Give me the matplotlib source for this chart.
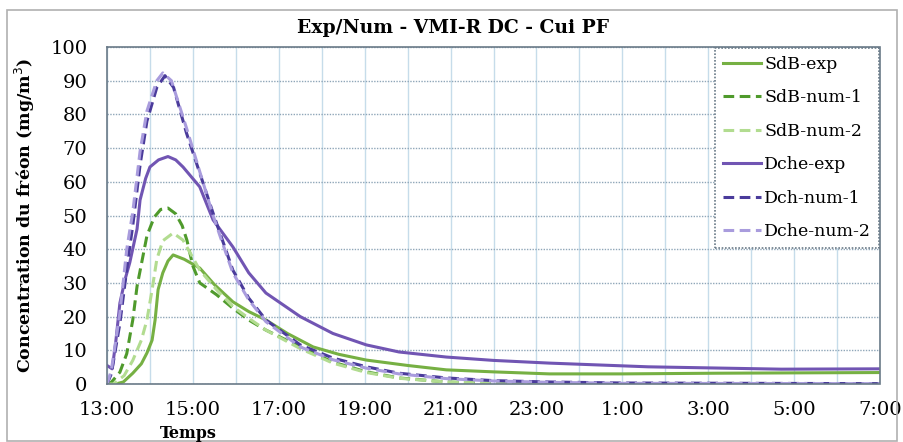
import matplotlib
matplotlib.use("Agg")
import matplotlib.pyplot as plt
from matplotlib.patches import Rectangle

# heures depuis 13:00 -> axe en heures (13 .. 31)
tick_hours = [13, 15, 17, 19, 21, 23, 25, 27, 29, 31]
tick_labels = ['13:00', '15:00', '17:00', '19:00', '21:00', '23:00', '1:00', '3:00', '5:00', '7:00']

sdb_exp_t = [0, 0.2, 0.38, 0.6, 0.8, 0.93, 1.05, 1.12, 1.19, 1.3, 1.42, 1.54, 1.8, 2.16, 2.5,
             2.93, 3.3, 3.7, 4.2, 4.8, 5.4, 6.04, 7.0, 7.9, 9.0, 10.3, 12.0, 14.2, 16.0, 18.0]
sdb_exp = [0, 0, 0.6, 3.2, 6.0, 9.2, 13, 19, 28, 33, 36.5, 38.3, 37, 34.4, 29.5,
           24.4, 21.5, 19, 15, 11, 8.8, 7.1, 5.5, 4.2, 3.6, 3.0, 3.0, 3.2, 3.3, 3.4]

sdb_num1_t = [0, 0.1, 0.3, 0.46, 0.6, 0.7, 0.93, 1.1, 1.25, 1.42, 1.6, 1.75, 1.86, 2.0, 2.16,
              2.55, 2.93, 3.3, 3.7, 4.5, 5.26, 6.04, 6.8, 7.9, 9.0, 10.3, 12.0, 18.0]
sdb_num1 = [0, 0.5, 3.5, 9, 19, 29, 44, 49.5, 51.8, 52.2, 50.5, 47, 42.7, 35, 30,
            26.5, 22.5, 19, 16, 11, 6.5, 3.6, 1.8, 0.6, 0.2, 0.1, 0, 0]

sdb_num2_t = [0, 0.15, 0.4, 0.6, 0.8, 0.93, 1.05, 1.16, 1.3, 1.54, 1.77, 2.16, 2.55, 2.93,
              3.3, 3.7, 4.5, 5.26, 6.04, 6.8, 7.9, 9.0, 10.3, 12.0, 18.0]
sdb_num2 = [0, 0, 2.5, 7, 13, 19, 28, 37, 42.5, 44.8, 42.7, 33.8, 28, 23,
            19.5, 16, 10.5, 6.2, 3.4, 1.7, 0.6, 0.2, 0.1, 0, 0]

dche_exp_t = [0, 0.12, 0.2, 0.3, 0.42, 0.53, 0.7, 0.77, 0.9, 1.0, 1.2, 1.42, 1.6, 1.77, 2.16,
              2.47, 2.93, 3.3, 3.7, 4.5, 5.26, 6.04, 6.8, 7.9, 9.0, 10.3, 12.6, 15.7, 18.0]
dche_exp = [5.5, 4.5, 12, 24, 31, 36, 46, 54.6, 61, 64.4, 66.5, 67.5, 66.5, 64.4, 58.5,
            48.7, 40.7, 33, 27, 20, 15, 11.6, 9.5, 8, 7, 6.2, 5.1, 4.4, 4.5]

dch_num1_t = [0, 0.1, 0.3, 0.5, 0.6, 0.77, 0.93, 1.16, 1.35, 1.55, 1.85, 2.16, 2.47, 2.63,
              2.93, 3.3, 3.7, 4.5, 5.26, 6.04, 6.8, 7.9, 9.0, 10.3, 12.0, 18.0]
dch_num1 = [0, 3, 18, 38, 47, 65, 78, 88, 91.5, 88, 74.5, 62.6, 50.7, 44.8,
            33.8, 25.5, 19, 11.6, 7.7, 5.1, 3.2, 1.8, 1.0, 0.6, 0.3, 0.1]

dche_num2_t = [0, 0.1, 0.3, 0.46, 0.6, 0.77, 0.93, 1.16, 1.3, 1.5, 1.85, 2.16, 2.47, 2.63,
               2.93, 3.3, 3.7, 4.5, 5.26, 6.04, 6.8, 7.9, 9.0, 10.3, 12.0, 18.0]
dche_num2 = [0, 4, 21, 40, 51, 69, 81, 90, 92.3, 90, 76, 63, 50, 44,
             33, 25, 18.5, 11, 7.2, 4.7, 3.0, 1.6, 0.9, 0.5, 0.2, 0.1]

plt.rcParams['font.family'] = ['DejaVu Serif']

fig = plt.figure(figsize=(9.04, 4.42), dpi=100)
# cadre du graphique (style Excel)
fig.patches.append(Rectangle((7 / 904, 0.003), 890 / 904, 1 - 10 / 442 - 0.003,
                             transform=fig.transFigure, fill=False,
                             edgecolor='#b0b0b0', lw=1.2))

ax = fig.add_axes([107 / 904, 1 - 384 / 442, (880 - 107) / 904, (384 - 47) / 442])

def h(ts):
    return [13 + t for t in ts]

dash = (3.5, 1.8)
ax.plot(h(sdb_exp_t), sdb_exp, color='#76b043', lw=2.2, label='SdB-exp')
ax.plot(h(sdb_num1_t), sdb_num1, color='#4f9a2c', lw=2.2, dashes=dash, label='SdB-num-1')
ax.plot(h(sdb_num2_t), sdb_num2, color='#b2dc90', lw=2.2, dashes=dash, label='SdB-num-2')
ax.plot(h(dche_exp_t), dche_exp, color='#7155b3', lw=2.2, label='Dche-exp')
ax.plot(h(dch_num1_t), dch_num1, color='#4a3b9b', lw=2.2, dashes=dash, label='Dch-num-1')
ax.plot(h(dche_num2_t), dche_num2, color='#a99cdd', lw=2.2, dashes=dash, label='Dche-num-2')

ax.set_xlim(13, 31)
ax.set_ylim(0, 100)
ax.set_xticks(tick_hours)
ax.set_xticklabels(tick_labels)
ax.set_xticks(range(13, 32), minor=True)
ax.set_yticks(range(0, 101, 10))
ax.tick_params(axis='both', which='both', length=0, labelsize=14)
ax.tick_params(axis='x', pad=12)
ax.tick_params(axis='y', pad=14)

ax.grid(True, axis='x', which='both', color='#c6dcea', lw=1.0)
ax.grid(True, axis='y', which='major', color='#8fa6b8', lw=1.0, ls=(0, (1, 1)))
ax.set_axisbelow(True)
for s in ax.spines.values():
    s.set_color('#6a7a88')
    s.set_linestyle((0, (1, 1)))
    s.set_linewidth(1.2)

ax.set_ylabel('Concentration du fréon (mg/m$^3$)', fontsize=12.5, fontweight='bold', labelpad=10)
fig.text(188 / 904, 1 - 433 / 442, 'Temps', fontsize=11.5, fontweight='bold',
         ha='center', va='center')
fig.text(453 / 904, 1 - 28 / 442, 'Exp/Num - VMI-R DC - Cui PF', fontsize=13.5,
         fontweight='bold', ha='center', va='center')

leg = ax.legend(loc='upper right', fontsize=12.5, frameon=True, fancybox=False,
                handlelength=2.2, handletextpad=0.2, borderpad=0.45,
                labelspacing=0.95, borderaxespad=0.05)
leg.get_frame().set_edgecolor('#6a7a88')
leg.get_frame().set_linestyle((0, (1, 1)))
leg.get_frame().set_linewidth(1.2)
leg.get_frame().set_alpha(1)

fig.savefig('out.png', dpi=100)
